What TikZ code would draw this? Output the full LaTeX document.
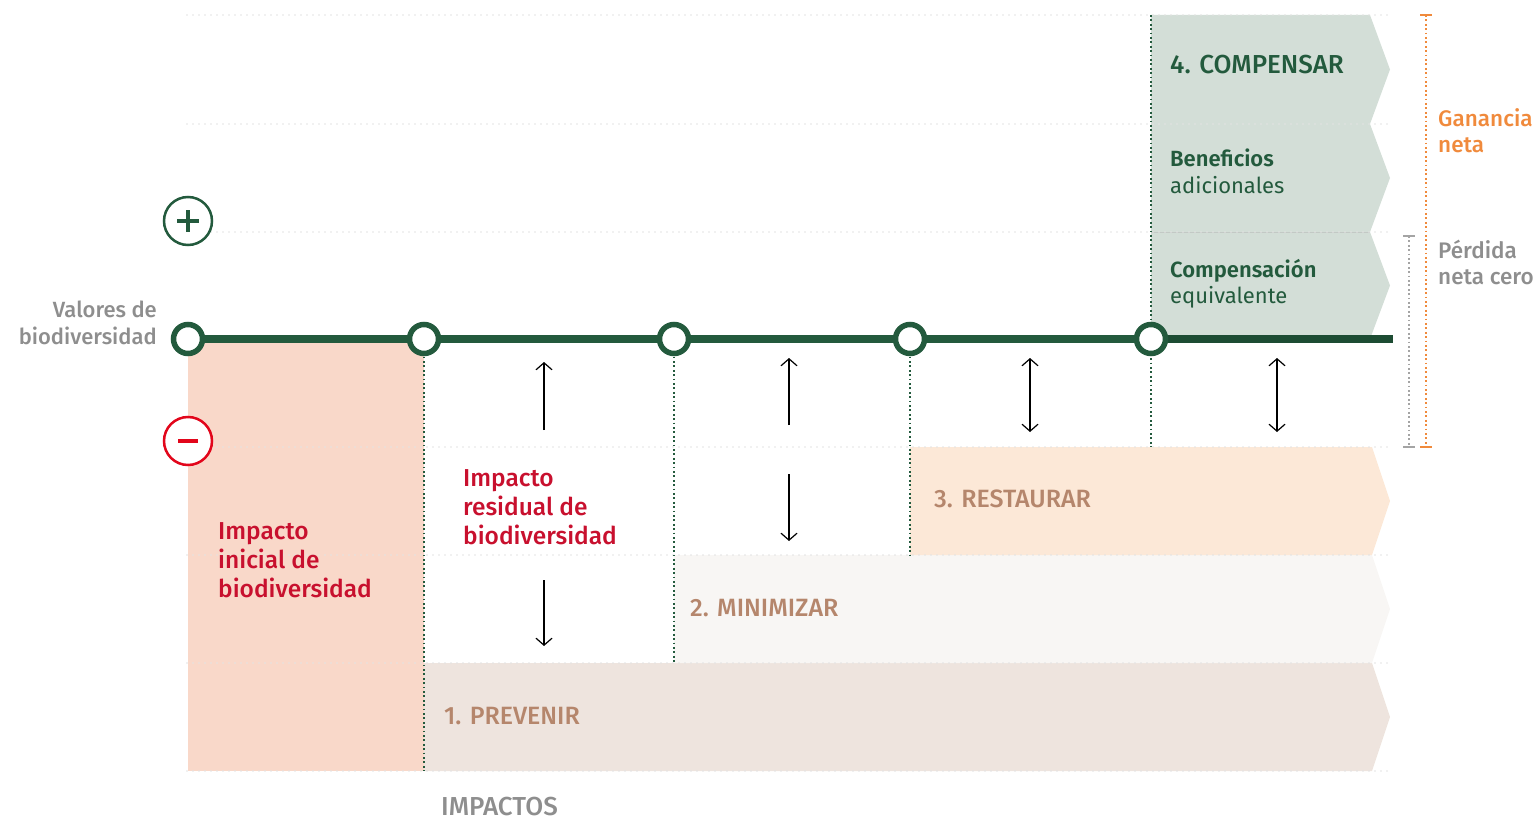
\documentclass[tikz,border=0pt]{standalone}
\usepackage{fontspec}
\setmainfont{Fira Sans}[UprightFont={* Medium}, BoldFont={* SemiBold}]
\newfontfamily\regfont{Fira Sans}
\usetikzlibrary{arrows.meta, positioning}
\definecolor{MitGreen}{HTML}{235A3D}
\definecolor{MitGreenDark}{HTML}{1D4C33}
\definecolor{MitRed}{HTML}{C8102E}
\definecolor{MitMinus}{HTML}{E2061B}
\definecolor{MitOrange}{HTML}{F08A3C}
\definecolor{MitGray}{HTML}{8E8E8E}
\definecolor{MitBrown}{HTML}{B5866C}
\definecolor{PinkBox}{HTML}{F9D8C9}
\definecolor{BandPrev}{HTML}{EEE4DE}
\definecolor{BandMin}{HTML}{F8F6F4}
\definecolor{BandRest}{HTML}{FCE8D7}
\definecolor{BandComp}{HTML}{D3DED7}
\definecolor{GridGray}{HTML}{E3E3E3}

\begin{document}
\begin{tikzpicture}[x=1pt, y=-1pt, >={Straight Barb[length=7pt, width=16pt]},
  grid line/.style={GridGray, line width=1.8pt, line cap=round, dash pattern=on 0pt off 6pt},
  phase line/.style={MitGreen, line width=2.4pt, dash pattern=on 1.8pt off 2.6pt},
  milestone/.style={circle, draw=MitGreen, fill=white, line width=5.5pt, minimum size=29pt, inner sep=0pt},
  sign/.style={circle, draw=#1, fill=white, line width=2.5pt, minimum size=48pt, inner sep=0pt},
  band label/.style={anchor=base west, inner sep=0pt, MitBrown, font=\fontsize{25}{28}\selectfont},
  red label/.style={anchor=base west, inner sep=0pt, align=left, MitRed, font=\fontsize{24.5}{29}\selectfont},
  comp label/.style={anchor=base west, inner sep=0pt, align=left, MitGreen, font=\fontsize{22}{27}\selectfont},
  side label/.style={anchor=base west, inner sep=0pt, align=left, font=\fontsize{22.5}{26.5}\selectfont},
  impact arrow/.style={black, line width=1.2pt}]
  \useasboundingbox (0,0) rectangle (1535,821);

  % Initial impact
  \fill[PinkBox] (188,339) rectangle (424,771);
  % Bands
  \fill[BandPrev] (424,663) -- (1372,663) -- (1390,717) -- (1372,771) -- (424,771) -- cycle;
  \fill[BandMin] (674,555) -- (1372,555) -- (1390,609) -- (1372,663) -- (674,663) -- cycle;
  \fill[BandRest] (910,447) -- (1372,447) -- (1390,501) -- (1372,555) -- (910,555) -- cycle;
  \foreach \top/\bot in {15/124, 124/232, 232/339}
    \fill[BandComp] (1151,\top) -- (1370,\top) -- (1390,{(\top+\bot)/2}) -- (1370,\bot) -- (1151,\bot) -- cycle;
  \draw[BandComp!80!black!70, line width=1pt] (1151,233) -- (1370,233);

  % Grid
  \foreach \y in {15,124,232,447,555,663,771}
    \draw[grid line] (187,\y) -- (1392,\y);

  % Milestones on the baseline
  \foreach \x [count=\i] in {188,424,674,910,1151}
    \coordinate (p\i) at (\x,339);
  \coordinate (lineend) at (1393,339);
  \coordinate (floor) at (0,771);
  \coordinate (comptop) at (1151,15);
  \coordinate (compbot) at (1151,447);

  % Phase separators
  \draw[phase line] (p2) -- (p2 |- floor);
  \draw[phase line] (p3) -- (674,663);
  \draw[phase line] (p4) -- (910,555);
  \draw[phase line] (comptop) -- (compbot);

  % Baseline
  \draw[MitGreen, line width=8pt] (p1) -- (p5);
  \draw[MitGreenDark, line width=8pt] (p5) -- (lineend);
  \foreach \i in {1,...,5}
    \node[milestone] (m\i) at (p\i) {};

  % Plus and minus signs
  \node[sign=MitGreen] (plus) at (188,221) {};
  \draw[MitGreen, line width=4pt] ([xshift=-11pt]plus.center) -- ([xshift=11pt]plus.center);
  \draw[MitGreen, line width=4pt] ([yshift=-11pt]plus.center) -- ([yshift=11pt]plus.center);
  \node[sign=MitMinus] (minus) at (188,441) {};
  \draw[MitMinus, line width=4pt] ([xshift=-10pt]minus.center) -- ([xshift=10pt]minus.center);

  % Impact arrows
  \coordinate (up1s) at (544,430);  \coordinate (up1e) at (544,362);
  \coordinate (dn1s) at (544,580);  \coordinate (dn1e) at (544,646);
  \coordinate (up2s) at (789,425);  \coordinate (up2e) at (789,358);
  \coordinate (dn2s) at (789,474);  \coordinate (dn2e) at (789,541);
  \coordinate (bi3s) at (1030,358); \coordinate (bi3e) at (1030,432);
  \coordinate (bi4s) at (1277,358); \coordinate (bi4e) at (1277,432);
  \draw[impact arrow, ->] (up1s) -- (up1e);
  \draw[impact arrow, ->] (dn1s) -- (dn1e);
  \draw[impact arrow, ->] (up2s) -- (up2e);
  \draw[impact arrow, ->] (dn2s) -- (dn2e);
  \draw[impact arrow, <->] (bi3s) -- (bi3e);
  \draw[impact arrow, <->] (bi4s) -- (bi4e);

  % Net gain and no net loss brackets
  \coordinate (gaintop) at (1426,15);  \coordinate (gainbot) at (1426,447);
  \coordinate (losstop) at (1409,236); \coordinate (lossbot) at (1409,447);
  \draw[MitOrange, line width=2.2pt, dash pattern=on 1.8pt off 2.6pt] (gaintop) -- (gainbot);
  \draw[MitGray!80, line width=2.2pt, dash pattern=on 1.8pt off 2.6pt] (losstop) -- (lossbot);
  \draw[MitOrange, line width=2.5pt] ([xshift=-6pt]gaintop) -- ([xshift=6pt]gaintop);
  \draw[MitOrange, line width=2.5pt] ([xshift=-6pt]gainbot) -- ([xshift=6pt]gainbot);
  \draw[MitGray!80, line width=2.5pt] ([xshift=-6pt]losstop) -- ([xshift=6pt]losstop);
  \draw[MitGray!80, line width=2.5pt] ([xshift=-6pt]lossbot) -- ([xshift=6pt]lossbot);

  % Labels (multi-line nodes sit on their last baseline)
  \node[anchor=base east, inner sep=0pt, align=right, MitGray, font=\fontsize{22}{27}\selectfont]
    (values) at (157,344) {Valores de\\biodiversidad};
  \node[red label] (initial) at (218,597) {Impacto\\inicial de\\biodiversidad};
  \node[red label] (residual) at (463,544) {Impacto\\residual de\\biodiversidad};
  \node[band label] (prevent) at (444,724) {1. PREVENIR};
  \node[band label] (minimize) at (690,616) {2. MINIMIZAR};
  \node[band label] (restore) at (934,507) {3. RESTAURAR};
  \node[anchor=base west, inner sep=0pt, MitGreen, font=\fontsize{26}{29}\selectfont]
    (offset) at (1170,74) {4. COMPENSAR};
  \node[comp label] (extra) at (1170,194) {{\bfseries Beneficios}\\{\regfont adicionales}};
  \node[comp label] (equiv) at (1170,304) {{\bfseries Compensación}\\{\regfont equivalente}};
  \node[side label, MitOrange] (gain) at (1438,153) {Ganancia\\neta};
  \node[side label, MitGray] (noloss) at (1438,285) {Pérdida\\neta cero};
  \node[anchor=base west, inner sep=0pt, MitGray, font=\fontsize{26}{29}\selectfont]
    (impacts) at (441,815) {IMPACTOS};
\end{tikzpicture}
\end{document}
